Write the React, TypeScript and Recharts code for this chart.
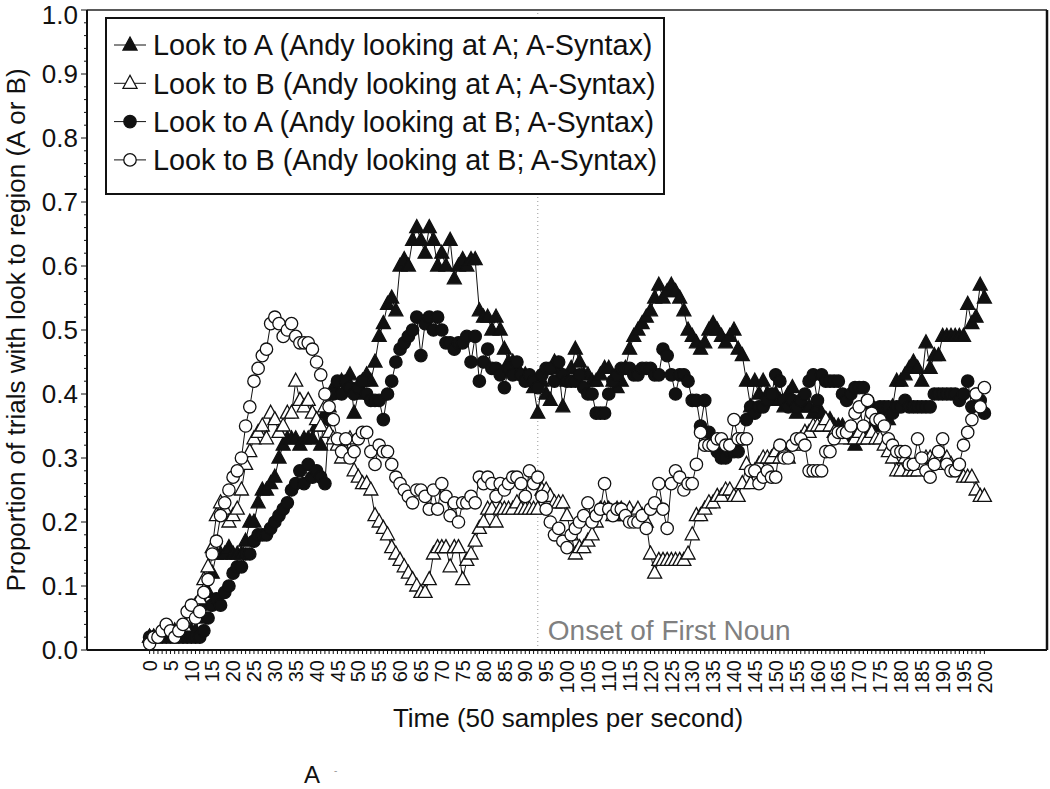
import React from 'react';
import { LineChart, Line, XAxis, YAxis, ReferenceLine, Legend } from 'recharts';

const FONT = '"Liberation Sans", Arial, Helvetica, sans-serif';

// Look to A (Andy looking at A; A-Syntax), t = 0..200
const lookA_atA = [
  0.02, 0.02, 0.02, 0.03, 0.03, 0.03, 0.03, 0.03, 0.03, 0.03,
  0.03, 0.03, 0.05, 0.07, 0.09, 0.12, 0.15, 0.15, 0.15, 0.16,
  0.15, 0.15, 0.15, 0.17, 0.20, 0.20, 0.23, 0.25, 0.25, 0.26,
  0.27, 0.30, 0.32, 0.33, 0.33, 0.33, 0.32, 0.33, 0.33, 0.33,
  0.35, 0.32, 0.37, 0.38, 0.41, 0.40, 0.42, 0.41, 0.43, 0.37,
  0.40, 0.42, 0.43, 0.42, 0.45, 0.49, 0.51, 0.54, 0.55, 0.53,
  0.60, 0.61, 0.60, 0.64, 0.66, 0.64, 0.62, 0.66, 0.64, 0.60,
  0.62, 0.60, 0.64, 0.58, 0.60, 0.61, 0.60, 0.61, 0.61, 0.53,
  0.52, 0.52, 0.50, 0.52, 0.50, 0.47, 0.45, 0.45, 0.44, 0.43,
  0.43, 0.42, 0.41, 0.37, 0.42, 0.40, 0.39, 0.45, 0.44, 0.38,
  0.42, 0.44, 0.47, 0.45, 0.43, 0.43, 0.42, 0.42, 0.43, 0.44,
  0.44, 0.42, 0.41, 0.42, 0.44, 0.47, 0.49, 0.50, 0.51, 0.52,
  0.53, 0.55, 0.57, 0.55, 0.56, 0.57, 0.56, 0.55, 0.53, 0.50,
  0.49, 0.48, 0.47, 0.48, 0.50, 0.51, 0.50, 0.49, 0.48, 0.49,
  0.50, 0.47, 0.46, 0.42, 0.38, 0.42, 0.40, 0.42, 0.40, 0.39,
  0.40, 0.39, 0.38, 0.40, 0.41, 0.37, 0.38, 0.38, 0.38, 0.37,
  0.38, 0.37, 0.36, 0.36, 0.35, 0.35, 0.35, 0.34, 0.33, 0.32,
  0.33, 0.34, 0.34, 0.35, 0.35, 0.36, 0.36, 0.36, 0.38, 0.42,
  0.42, 0.43, 0.44, 0.45, 0.44, 0.42, 0.48, 0.44, 0.46, 0.46,
  0.49, 0.49, 0.49, 0.49, 0.49, 0.49, 0.54, 0.51, 0.52, 0.57,
  0.55,
];

// Look to B (Andy looking at A; A-Syntax)
const lookB_atA = [
  0.02, 0.02, 0.02, 0.02, 0.03, 0.03, 0.02, 0.02, 0.03, 0.03,
  0.05, 0.07, 0.08, 0.11, 0.13, 0.16, 0.21, 0.23, 0.22, 0.20,
  0.21, 0.22, 0.25, 0.29, 0.31, 0.33, 0.34, 0.35, 0.33, 0.37,
  0.36, 0.34, 0.35, 0.37, 0.37, 0.42, 0.39, 0.38, 0.39, 0.37,
  0.36, 0.35, 0.38, 0.34, 0.33, 0.32, 0.30, 0.31, 0.33, 0.28,
  0.27, 0.26, 0.26, 0.25, 0.21, 0.20, 0.19, 0.18, 0.16, 0.15,
  0.14, 0.13, 0.12, 0.11, 0.10, 0.09, 0.09, 0.11, 0.15, 0.16,
  0.16, 0.16, 0.13, 0.16, 0.16, 0.11, 0.14, 0.15, 0.17, 0.19,
  0.20, 0.22, 0.22, 0.20, 0.22, 0.22, 0.22, 0.22, 0.23, 0.22,
  0.22, 0.22, 0.22, 0.22, 0.25, 0.25, 0.24, 0.23, 0.23, 0.23,
  0.21, 0.18, 0.15, 0.16, 0.16, 0.17, 0.18, 0.20, 0.22, 0.22,
  0.22, 0.21, 0.22, 0.22, 0.21, 0.22, 0.21, 0.22, 0.21, 0.20,
  0.15, 0.12, 0.14, 0.14, 0.14, 0.14, 0.14, 0.14, 0.14, 0.15,
  0.18, 0.21, 0.21, 0.22, 0.23, 0.23, 0.24, 0.24, 0.25, 0.25,
  0.24, 0.24, 0.26, 0.29, 0.26, 0.28, 0.29, 0.30, 0.30, 0.30,
  0.31, 0.30, 0.31, 0.30, 0.32, 0.32, 0.33, 0.34, 0.34, 0.35,
  0.35, 0.35, 0.36, 0.35, 0.34, 0.34, 0.33, 0.34, 0.34, 0.33,
  0.34, 0.33, 0.33, 0.34, 0.33, 0.33, 0.32, 0.31, 0.30, 0.28,
  0.28, 0.30, 0.28, 0.28, 0.28, 0.29, 0.30, 0.30, 0.30, 0.30,
  0.29, 0.30, 0.29, 0.28, 0.28, 0.27, 0.27, 0.27, 0.25, 0.24,
  0.24,
];

// Look to A (Andy looking at B; A-Syntax)
const lookA_atB = [
  0.02, 0.02, 0.02, 0.02, 0.02, 0.02, 0.02, 0.02, 0.02, 0.02,
  0.02, 0.02, 0.02, 0.03, 0.05, 0.07, 0.08, 0.07, 0.09, 0.10,
  0.12, 0.13, 0.13, 0.15, 0.15, 0.17, 0.18, 0.18, 0.18, 0.19,
  0.20, 0.21, 0.22, 0.23, 0.25, 0.26, 0.28, 0.26, 0.29, 0.27,
  0.28, 0.27, 0.26, 0.36, 0.40, 0.42, 0.40, 0.42, 0.41, 0.40,
  0.41, 0.42, 0.40, 0.39, 0.39, 0.39, 0.36, 0.40, 0.42, 0.45,
  0.47, 0.48, 0.49, 0.50, 0.52, 0.46, 0.51, 0.52, 0.50, 0.52,
  0.50, 0.48, 0.48, 0.47, 0.48, 0.48, 0.49, 0.45, 0.49, 0.42,
  0.45, 0.47, 0.44, 0.44, 0.43, 0.41, 0.44, 0.43, 0.45, 0.43,
  0.42, 0.43, 0.42, 0.41, 0.43, 0.44, 0.44, 0.42, 0.45, 0.43,
  0.42, 0.42, 0.42, 0.43, 0.41, 0.40, 0.40, 0.37, 0.37, 0.37,
  0.40, 0.42, 0.43, 0.44, 0.44, 0.44, 0.43, 0.43, 0.44, 0.44,
  0.44, 0.43, 0.43, 0.47, 0.46, 0.43, 0.40, 0.43, 0.43, 0.42,
  0.39, 0.39, 0.35, 0.39, 0.34, 0.32, 0.31, 0.30, 0.30, 0.31,
  0.31, 0.31, 0.33, 0.36, 0.38, 0.37, 0.38, 0.38, 0.39, 0.40,
  0.43, 0.42, 0.39, 0.38, 0.39, 0.38, 0.39, 0.40, 0.42, 0.43,
  0.39, 0.43, 0.42, 0.42, 0.42, 0.42, 0.40, 0.39, 0.40, 0.41,
  0.41, 0.41, 0.39, 0.38, 0.37, 0.38, 0.38, 0.38, 0.37, 0.38,
  0.38, 0.39, 0.38, 0.38, 0.38, 0.38, 0.38, 0.38, 0.40, 0.40,
  0.40, 0.40, 0.40, 0.40, 0.39, 0.40, 0.42, 0.38, 0.40, 0.39,
  0.37,
];

// Look to B (Andy looking at B; A-Syntax)
const lookB_atB = [
  0.01, 0.02, 0.02, 0.03, 0.04, 0.03, 0.02, 0.03, 0.04, 0.06,
  0.07, 0.05, 0.06, 0.09, 0.11, 0.15, 0.17, 0.21, 0.23, 0.25,
  0.27, 0.28, 0.30, 0.35, 0.38, 0.42, 0.44, 0.46, 0.47, 0.51,
  0.52, 0.51, 0.49, 0.50, 0.51, 0.49, 0.48, 0.48, 0.48, 0.47,
  0.45, 0.43, 0.40, 0.38, 0.36, 0.33, 0.31, 0.33, 0.30, 0.31,
  0.33, 0.34, 0.34, 0.31, 0.29, 0.32, 0.31, 0.31, 0.29, 0.27,
  0.26, 0.25, 0.24, 0.23, 0.25, 0.25, 0.24, 0.22, 0.25, 0.22,
  0.26, 0.24, 0.21, 0.23, 0.20, 0.23, 0.23, 0.24, 0.23, 0.27,
  0.26, 0.27, 0.26, 0.24, 0.26, 0.25, 0.26, 0.27, 0.27, 0.26,
  0.24, 0.28, 0.26, 0.27, 0.24, 0.22, 0.20, 0.18, 0.19, 0.17,
  0.16, 0.18, 0.19, 0.20, 0.21, 0.23, 0.20, 0.21, 0.22, 0.26,
  0.22, 0.21, 0.22, 0.22, 0.21, 0.20, 0.20, 0.20, 0.21, 0.19,
  0.22, 0.23, 0.26, 0.22, 0.19, 0.26, 0.28, 0.27, 0.25, 0.26,
  0.26, 0.29, 0.34, 0.32, 0.32, 0.32, 0.33, 0.33, 0.32, 0.32,
  0.36, 0.33, 0.33, 0.33, 0.28, 0.28, 0.26, 0.27, 0.28, 0.27,
  0.27, 0.32, 0.30, 0.30, 0.32, 0.33, 0.33, 0.32, 0.28, 0.28,
  0.28, 0.28, 0.31, 0.31, 0.33, 0.34, 0.34, 0.34, 0.35, 0.37,
  0.38, 0.35, 0.39, 0.37, 0.36, 0.36, 0.35, 0.33, 0.32, 0.31,
  0.31, 0.31, 0.29, 0.29, 0.33, 0.30, 0.28, 0.27, 0.29, 0.31,
  0.33, 0.29, 0.28, 0.28, 0.29, 0.32, 0.34, 0.36, 0.40, 0.38,
  0.41,
];

const seriesNames = [
  'Look to A (Andy looking at A; A-Syntax)',
  'Look to B (Andy looking at A; A-Syntax)',
  'Look to A (Andy looking at B; A-Syntax)',
  'Look to B (Andy looking at B; A-Syntax)',
];

const time = lookA_atA.map((_, i) => i);
const xTicks = time;
const yTicks = Array.from({ length: 51 }, (_, i) => Math.round(i * 2) / 100);
const onsetTime = 93;

const data = time.map((t, i) => ({
  t,
  aA: lookA_atA[i],
  bA: lookB_atA[i],
  aB: lookA_atB[i],
  bB: lookB_atB[i],
}));

type Kind = 'triFilled' | 'triOpen' | 'circFilled' | 'circOpen';

function Marker({ cx, cy, kind }: { cx: number; cy: number; kind: Kind }) {
  if (kind === 'triFilled' || kind === 'triOpen') {
    const filled = kind === 'triFilled';
    return (
      <polygon
        points={`${cx},${cy - 8} ${cx + 7},${cy + 5} ${cx - 7},${cy + 5}`}
        fill={filled ? '#111' : '#fff'}
        stroke="#111"
        strokeWidth={1.3}
      />
    );
  }
  const filled = kind === 'circFilled';
  return <circle cx={cx} cy={cy} r={6.2} fill={filled ? '#111' : '#fff'} stroke="#111" strokeWidth={1.3} />;
}

const makeDot = (kind: Kind) => (props: any) => {
  const { cx, cy, index } = props;
  if (cx == null || cy == null) return <g key={`${kind}-${index}`} />;
  return (
    <g key={`${kind}-${index}`}>
      <Marker cx={cx} cy={cy} kind={kind} />
    </g>
  );
};

const YTick = (props: any) => {
  const { x, y, payload } = props;
  const v = payload.value as number;
  const major = Math.abs(v * 10 - Math.round(v * 10)) < 1e-6;
  // keep the top label inside the page
  const ty = v === 1 ? y + 5 : y;
  return (
    <g>
      <line x1={x} x2={x - (major ? 6 : 3)} y1={y} y2={y} stroke="#111" strokeWidth={1} />
      {major && (
        <text x={x - 9} y={ty} dy="0.36em" textAnchor="end" fontSize={26} fill="#111" fontFamily={FONT}>
          {v.toFixed(1)}
        </text>
      )}
    </g>
  );
};

const XTick = (props: any) => {
  const { x, y, payload } = props;
  const v = payload.value as number;
  return (
    <g>
      <line x1={x} x2={x} y1={y} y2={y + 4} stroke="#111" strokeWidth={1} />
      {v % 5 === 0 && (
        <text
          x={x}
          y={y + 10}
          dy="0.36em"
          textAnchor="end"
          transform={`rotate(-90 ${x} ${y + 10})`}
          fontSize={20}
          fill="#111"
          fontFamily={FONT}
        >
          {v}
        </text>
      )}
    </g>
  );
};

const kinds: Kind[] = ['triFilled', 'triOpen', 'circFilled', 'circOpen'];

const LegendBox = () => (
  <div style={{ width: 560, height: 178, border: '2px solid #111', background: '#fff', boxSizing: 'border-box' }}>
    <svg width={556} height={174}>
      {seriesNames.map((name, i) => {
        const cy = 26 + i * 38.3;
        return (
          <g key={name}>
            <line x1={7} x2={39} y1={cy} y2={cy} stroke="#111" strokeWidth={1} />
            <Marker cx={23} cy={cy} kind={kinds[i]} />
            <text x={46} y={cy} dy="0.36em" fontSize={28.8} fill="#111" fontFamily={FONT}>
              {name}
            </text>
          </g>
        );
      })}
    </svg>
  </div>
);

export default function App() {
  return (
    <div style={{ position: 'absolute', left: 0, top: 0, width: 1050, height: 789, background: '#fff', fontFamily: FONT }}>
      <LineChart width={1050} height={789} data={data} margin={{ top: 10, right: 3, bottom: 0, left: 0 }}>
        <XAxis
          dataKey="t"
          type="number"
          domain={[-15, 215]}
          ticks={xTicks}
          interval={0}
          tickSize={0}
          tickMargin={0}
          tick={XTick}
          height={139}
          stroke="#111"
          strokeWidth={2}
        />
        <YAxis
          type="number"
          domain={[0, 1]}
          ticks={yTicks}
          interval={0}
          tickSize={0}
          tickMargin={0}
          tick={YTick}
          width={87}
          stroke="#111"
          strokeWidth={2}
        />
        <ReferenceLine y={1} stroke="#222" strokeWidth={1.5} />
        <ReferenceLine x={215} stroke="#111" strokeWidth={2.5} />
        <ReferenceLine
          x={onsetTime}
          stroke="#999"
          strokeWidth={1}
          strokeDasharray="1 3"
          label={{ value: 'Onset of First Noun', position: 'insideBottomLeft', fill: '#808080', fontSize: 28, fontFamily: FONT, offset: 10 }}
        />
        <Line dataKey="aA" name={seriesNames[0]} stroke="#111" strokeWidth={1} dot={makeDot('triFilled')} activeDot={false} isAnimationActive={false} />
        <Line dataKey="bA" name={seriesNames[1]} stroke="#111" strokeWidth={1} dot={makeDot('triOpen')} activeDot={false} isAnimationActive={false} />
        <Line dataKey="aB" name={seriesNames[2]} stroke="#111" strokeWidth={1} dot={makeDot('circFilled')} activeDot={false} isAnimationActive={false} />
        <Line dataKey="bB" name={seriesNames[3]} stroke="#111" strokeWidth={1} dot={makeDot('circOpen')} activeDot={false} isAnimationActive={false} />
        <Legend
          layout="vertical"
          align="center"
          verticalAlign="middle"
          content={() => <LegendBox />}
          wrapperStyle={{ left: 105, top: 17, width: 560, height: 178 }}
        />
      </LineChart>
      <svg width={1050} height={789} style={{ position: 'absolute', left: 0, top: 0, pointerEvents: 'none' }}>
        <text transform="rotate(-90)" x={-330} y={25} textAnchor="middle" fontSize={26} fill="#111" fontFamily={FONT}>
          Proportion of trials with look to region (A or B)
        </text>
        <text x={568} y={727} textAnchor="middle" fontSize={26} fill="#111" fontFamily={FONT}>
          Time (50 samples per second)
        </text>
        <text x={304} y={783} fontSize={24} fill="#111" fontFamily={FONT}>
          A
        </text>
        <text x={334} y={774} fontSize={10} fill="#999" fontFamily={FONT}>
          -
        </text>
      </svg>
    </div>
  );
}
